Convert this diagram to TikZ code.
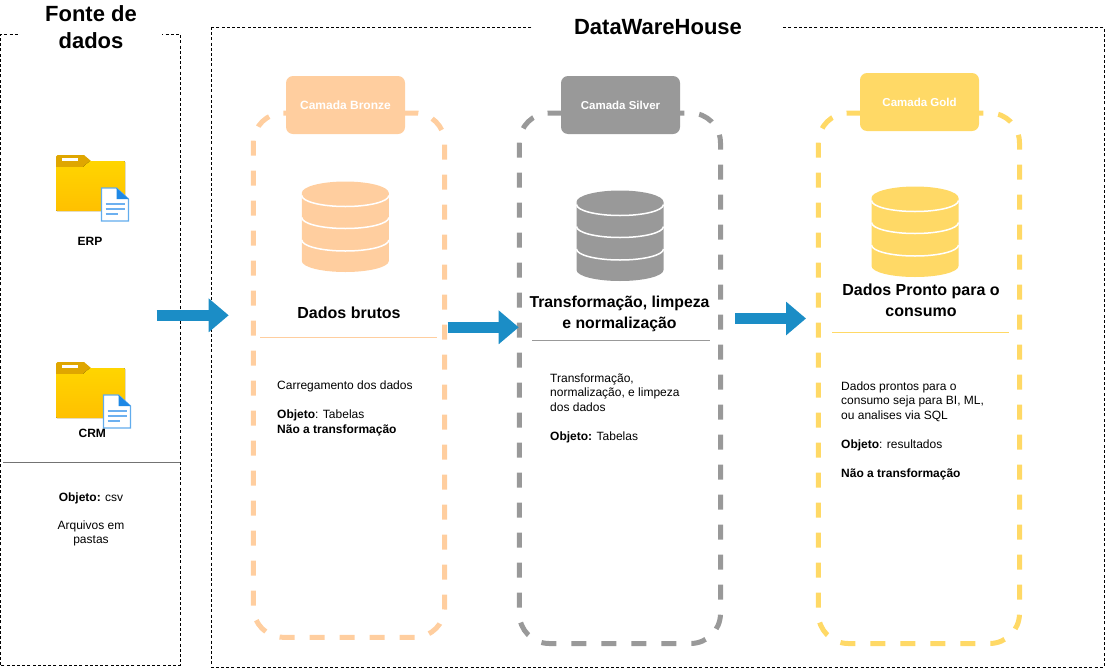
\documentclass[tikz,border=0pt]{standalone}
\usepackage{fontspec}
\setmainfont{Liberation Sans}
\usetikzlibrary{arrows.meta}
\definecolor{bronze}{HTML}{FFCE9F}
\definecolor{silver}{HTML}{999999}
\definecolor{gold}{HTML}{FFD966}
\definecolor{flow}{HTML}{1B8DC6}
\definecolor{foldd}{HTML}{DFA600}
\definecolor{foldt}{HTML}{FFD500}
\definecolor{foldb}{HTML}{FFC000}
\definecolor{doc}{HTML}{1E88E5}
\definecolor{docl}{HTML}{6CB0F0}
\tikzset{
  frame/.style={draw=black,line width=0.8pt,dash pattern=on 3pt off 2.2pt},
  layer/.style={line width=5pt,dash pattern=on 15pt off 15pt},
  tag/.style={rounded corners=7pt,minimum width=119pt,minimum height=58pt,inner sep=0pt,text=white,font=\fontsize{11.5}{14}\selectfont\bfseries},
  title/.style={font=\fontsize{22}{27}\selectfont\bfseries,align=center,fill=white,inner sep=0pt},
  head/.style={font=\fontsize{16}{21}\selectfont\bfseries,align=center},
  body/.style={font=\fontsize{12}{14.5}\selectfont,align=left,anchor=north west,inner sep=0pt},
  small/.style={font=\fontsize{12}{14.5}\selectfont,align=center,inner sep=0pt},
  srclabel/.style={font=\fontsize{12}{14}\selectfont\bfseries,inner sep=0pt},
  flowarrow/.style={draw=flow,line width=10.5pt,-{Triangle[length=20pt,width=32.5pt]}}
}
\newcommand{\dbstack}[4]{% cx, top, colour, name
  \begin{scope}[shift={(#1,#2)}]
    \fill[#3] (-43.5,12) arc[start angle=180,end angle=360,x radius=43.5,y radius=11.5] -- (43.5,80) arc[start angle=0,end angle=180,x radius=43.5,y radius=11] -- cycle;
    \foreach \d in {14.5,36.5,59} \draw[white,line width=1.5pt] (-43.5,\d) arc[start angle=180,end angle=0,x radius=43.5,y radius=11];
    \coordinate (#4) at (0,45);
  \end{scope}}
\newcommand{\folderdoc}[3]{% x, y, doc dx
  \begin{scope}[shift={(#1,#2)}]
    \fill[foldd] (0,1.5) -- (1.5,0) -- (28,0) -- (35,6) -- (27,12.5) -- (0,12.5) -- cycle;
    \fill[white] (6,3) rectangle (22,6.2);
    \fill[top color=foldt,bottom color=foldb] (0,12) -- (27,12) -- (34,6) -- (68,6) -- (69,7) -- (69,55) -- (68,56) -- (1,56) -- (0,55) -- cycle;
    \begin{scope}[shift={(#3,33)}]
      \fill[white,draw=doc!70,line width=1.2pt] (0,0) -- (15,0) -- (27,11) -- (27,33) -- (0,33) -- cycle;
      \fill[doc] (15,0) -- (27,11) -- (15,11) -- cycle;
      \draw[docl,line width=1.6pt] (4,16) -- (23,16) (4,21) -- (23,21) (4,26) -- (16,26);
    \end{scope}
  \end{scope}}
\newcommand{\layerbox}[5]{% x1,y1,x2,y2,colour: the dash starts at the end of the top-left corner, as in the reference
  \draw[layer,draw=#5] ({#1+30},#2) -- ({#3-30},#2) arc[start angle=-90,end angle=0,radius=30]
    -- (#3,{#4-30}) arc[start angle=0,end angle=90,radius=30]
    -- ({#1+30},#4) arc[start angle=90,end angle=180,radius=30]
    -- (#1,{#2+30}) arc[start angle=180,end angle=270,radius=30];}
\begin{document}
\begin{tikzpicture}[x=1pt,y=-1pt]
\useasboundingbox (0,0) rectangle (1105,667);
% frames
\draw[frame] (0.5,665) -- (0.5,34.5) -- (180.5,34.5) -- (180.5,665) -- cycle;
\draw[frame] (211,27) rectangle (1104,667);
\node[title,minimum width=142pt] (tfonte) at (91,27) {Fonte de\\dados};
\node[title,minimum width=250pt,minimum height=24pt] (tdw) at (658,27) {DataWareHouse};
% left column
\folderdoc{56}{155}{45.5}
\node[srclabel] (erp) at (90,241) {ERP};
\folderdoc{56}{362}{47.5}
\node[srclabel] (crm) at (92.3,433) {CRM};
\coordinate (dl) at (3,462); \coordinate (dr) at (180,462);
\draw[gray!90!black,line width=1pt] (dl) -- (dr);
\node[small] (obj) at (91,498.5) {\textbf{Objeto:} csv};
\node[small] (arq) at (91,533.5) {Arquivos em\\pastas};
% layers
\layerbox{253.3}{113}{444.7}{637.3}{bronze}
\layerbox{519.3}{113}{720.5}{643.5}{silver}
\layerbox{818.3}{113}{1019.5}{643.5}{gold}
\node[tag,fill=bronze,font=\fontsize{12}{14}\selectfont\bfseries] (tb) at (345.5,105) {Camada Bronze};
\node[tag,fill=silver] (ts) at (620.5,105) {Camada Silver};
\node[tag,fill=gold] (tg) at (919.5,102) {Camada Gold};
\dbstack{345.3}{181}{bronze}{db1}
\dbstack{620}{190}{silver}{db2}
\dbstack{915}{186}{gold}{db3}
% headings
\node[head] (h1) at (349,313) {Dados brutos};
\node[head,font=\fontsize{15.8}{21}\selectfont\bfseries] (h2) at (619.5,313.5) {Transformação, limpeza\\e normalização};
\node[head] (h3) at (921,300.5) {Dados Pronto para o\\consumo};
\coordinate (a1) at (260,337.5); \coordinate (b1) at (437,337.5);
\coordinate (a2) at (532,340.5); \coordinate (b2) at (710,340.5);
\coordinate (a3) at (832,332.5); \coordinate (b3) at (1009,332.5);
\draw[bronze] (a1) -- (b1);
\draw[silver] (a2) -- (b2);
\draw[gold] (a3) -- (b3);
% body
\node[body] (t1) at (277,381) {Carregamento dos dados\\[14.5pt]\textbf{Objeto}: Tabelas\\\textbf{Não a transformação}};
\node[body] (t2) at (550,373.5) {Transformação,\\normalização, e limpeza\\dos dados\\[14.5pt]\textbf{Objeto:}  Tabelas};
\node[body] (t3) at (841,381.5) {Dados prontos para o\\consumo seja para BI, ML,\\ou analises via SQL\\[14.5pt]\textbf{Objeto}: resultados\\[14.5pt]\textbf{Não a transformação}};
% arrows
\coordinate (f1a) at (156.7,315.3); \coordinate (f1b) at (228.7,315.3);
\coordinate (f2a) at (447.7,327.3); \coordinate (f2b) at (518.7,327.3);
\coordinate (f3a) at (735,318.5); \coordinate (f3b) at (806,318.5);
\draw[flowarrow] (f1a) -- (f1b);
\draw[flowarrow] (f2a) -- (f2b);
\draw[flowarrow] (f3a) -- (f3b);
\end{tikzpicture}
\end{document}
